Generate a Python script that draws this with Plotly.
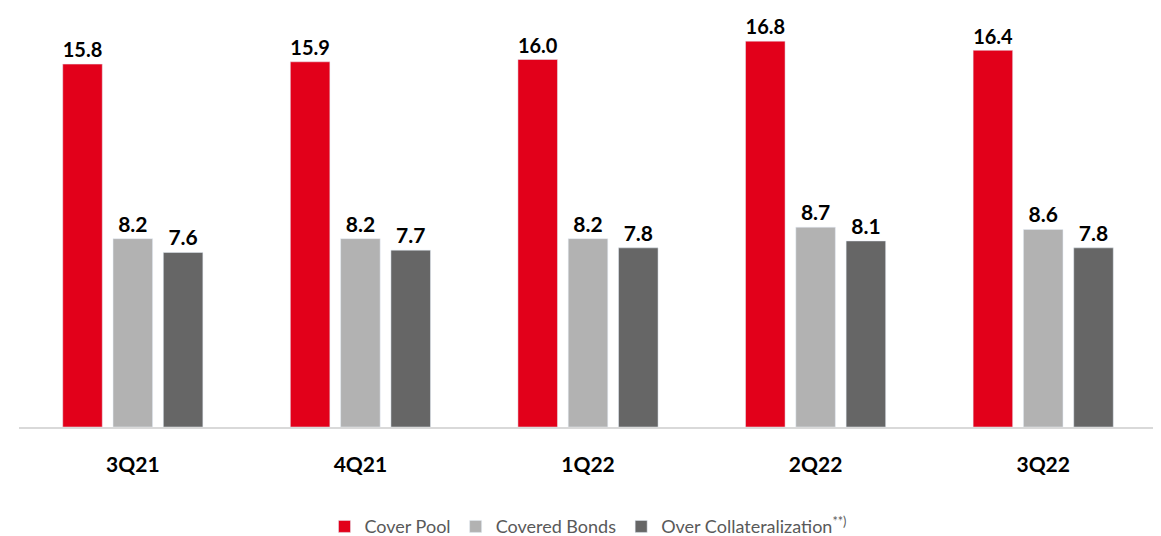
import plotly.graph_objects as go

categories = ["3Q21", "4Q21", "1Q22", "2Q22", "3Q22"]
cover_pool = [15.8, 15.9, 16.0, 16.8, 16.4]
covered_bonds = [8.2, 8.2, 8.2, 8.7, 8.6]
over_coll = [7.6, 7.7, 7.8, 8.1, 7.8]

series = [
    ("Cover Pool", cover_pool, "#e2001a"),
    ("Covered Bonds", covered_bonds, "#b2b2b2"),
    ("Over Collateralization<sup>**)</sup>", over_coll, "#666666"),
]

FONT = "Lato"

fig = go.Figure()
for name, vals, col in series:
    fig.add_trace(go.Bar(
        x=categories, y=vals, name=name, marker_color=col,
        texttemplate="%{y:.1f}", textposition="outside",
        textfont=dict(family=FONT, size=21, color="#000000", weight="bold"),
        cliponaxis=False,
    ))

# page body has an 8px margin, so the figure is sized to the remaining window
fig.update_layout(
    width=1153, height=528,
    margin=dict(l=11, r=4, t=12, b=109, autoexpand=False),
    plot_bgcolor="white", paper_bgcolor="white",
    barmode="group", bargap=0.337, bargroupgap=0.214,
    showlegend=True,
    legend=dict(orientation="h", x=0.5, xanchor="center", y=-0.245, yanchor="middle",
                font=dict(family=FONT, size=18, color="#595959"),
                traceorder="normal", itemwidth=30),
    xaxis=dict(showline=True, linecolor="#d9d9d9", linewidth=1.5, ticks="",
               ticklabelstandoff=18,
               tickfont=dict(family=FONT, size=21, color="#000000", weight="bold")),
    yaxis=dict(visible=False, range=[0, 17.72]),
)

fig.write_html("out.html")
